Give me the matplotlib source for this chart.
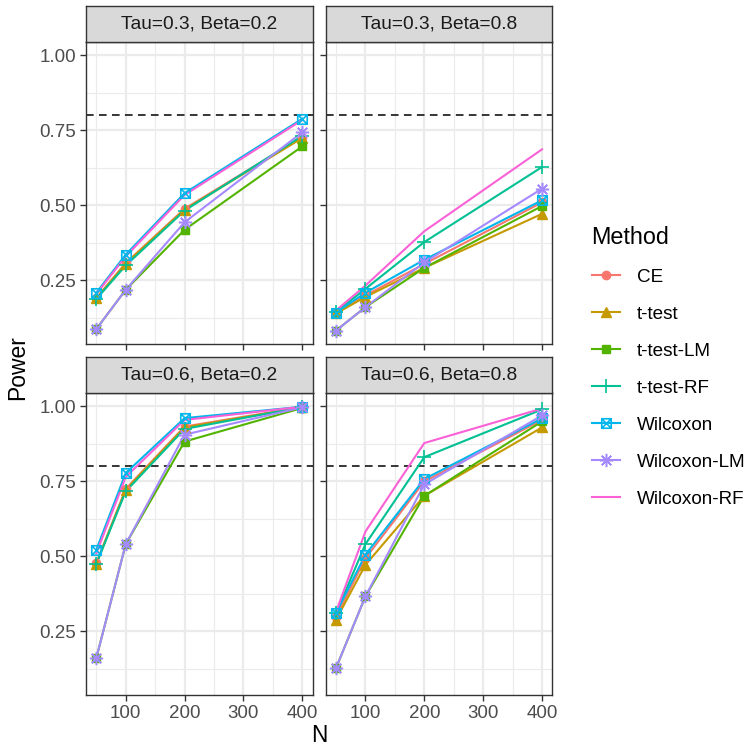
import numpy as np
import matplotlib
matplotlib.use("Agg")
import matplotlib.pyplot as plt
from matplotlib.path import Path
from matplotlib.lines import Line2D

plt.rcParams['font.family'] = ['Liberation Sans', 'DejaVu Sans']

n_values = [50, 100, 200, 400]
methods = ['CE', 't-test', 't-test-LM', 't-test-RF', 'Wilcoxon', 'Wilcoxon-LM', 'Wilcoxon-RF']
panel_titles = ['Tau=0.3, Beta=0.2', 'Tau=0.3, Beta=0.8',
                'Tau=0.6, Beta=0.2', 'Tau=0.6, Beta=0.8']

# rows follow the order of `methods`
power_tau03_beta02 = [
    [0.192, 0.308, 0.489, 0.728],
    [0.190, 0.306, 0.486, 0.725],
    [0.088, 0.219, 0.419, 0.697],
    [0.188, 0.300, 0.483, 0.732],
    [0.209, 0.336, 0.541, 0.789],
    [0.088, 0.219, 0.444, 0.744],
    [0.205, 0.330, 0.535, 0.785],
]
power_tau03_beta08 = [
    [0.141, 0.200, 0.305, 0.510],
    [0.140, 0.195, 0.292, 0.472],
    [0.083, 0.161, 0.292, 0.498],
    [0.145, 0.222, 0.378, 0.628],
    [0.143, 0.209, 0.319, 0.517],
    [0.083, 0.161, 0.310, 0.556],
    [0.150, 0.233, 0.414, 0.687],
]
power_tau06_beta02 = [
    [0.478, 0.725, 0.933, 0.998],
    [0.476, 0.722, 0.930, 0.997],
    [0.161, 0.541, 0.883, 0.995],
    [0.475, 0.717, 0.925, 0.998],
    [0.522, 0.778, 0.961, 0.999],
    [0.161, 0.541, 0.906, 0.997],
    [0.510, 0.765, 0.955, 0.999],
]
power_tau06_beta08 = [
    [0.298, 0.494, 0.750, 0.955],
    [0.289, 0.472, 0.702, 0.930],
    [0.128, 0.367, 0.702, 0.950],
    [0.310, 0.541, 0.831, 0.990],
    [0.311, 0.506, 0.758, 0.960],
    [0.128, 0.367, 0.740, 0.970],
    [0.315, 0.583, 0.878, 0.993],
]
target_power = 0.8

panels = [power_tau03_beta02, power_tau03_beta08, power_tau06_beta02, power_tau06_beta08]

colors = ['#F8766D', '#C49A00', '#53B400', '#00C094', '#00B6EB', '#A58AFF', '#FB61D7']

# square with a cross (ggplot shape 7)
boxtimes = Path([(-1, -1), (1, -1), (1, 1), (-1, 1), (-1, -1),
                 (-1, -1), (1, 1), (-1, 1), (1, -1)],
                [Path.MOVETO, Path.LINETO, Path.LINETO, Path.LINETO, Path.CLOSEPOLY,
                 Path.MOVETO, Path.LINETO, Path.MOVETO, Path.LINETO])
marker_kw = [
    dict(marker='o', markersize=6.0),
    dict(marker='^', markersize=7.0),
    dict(marker='s', markersize=6.2),
    dict(marker='+', markersize=9.5, markeredgewidth=1.2),
    dict(marker=boxtimes, markersize=6.8, markerfacecolor='none', markeredgewidth=1.2),
    dict(marker=(8, 2, 0), markersize=9.5, markeredgewidth=1.1),
    dict(marker=None),
]

W, H = 746, 748
fig = plt.figure(figsize=(W / 100, H / 100), dpi=100)

lefts = [86, 325.7]
tops = [42, 393]
pw, ph = 226.6, 302.3
strip_h = 36.3

all_vals = np.array(panels).ravel()
lo, hi = all_vals.min(), all_vals.max()
pad = 0.05 * (hi - lo)
ylim = (lo - pad, hi + pad)
xpad = 0.05 * (max(n_values) - min(n_values))
xlim = (min(n_values) - xpad, max(n_values) + xpad)

grey20 = '#333333'
for idx, data in enumerate(panels):
    r, c = divmod(idx, 2)
    x0 = lefts[c]
    y0 = tops[r]
    ax = fig.add_axes([x0 / W, 1 - (y0 + ph) / H, pw / W, ph / H])
    ax.set_xlim(*xlim)
    ax.set_ylim(*ylim)
    ax.set_xticks([100, 200, 300, 400])
    ax.set_xticks([50, 150, 250, 350], minor=True)
    ax.set_yticks([0.25, 0.5, 0.75, 1.0])
    ax.set_yticks([0.125, 0.375, 0.625, 0.875], minor=True)
    ax.grid(which='major', color='#EBEBEB', linewidth=1.6, zorder=0)
    ax.grid(which='minor', color='#EBEBEB', linewidth=0.8, zorder=0)
    ax.set_axisbelow(True)
    for s in ax.spines.values():
        s.set_color(grey20)
        s.set_linewidth(1.0)
    ax.tick_params(which='major', length=4, width=1.0, color=grey20,
                   labelsize=13.5, labelcolor='#4D4D4D', pad=3)
    ax.tick_params(which='minor', length=0)
    if c == 1:
        ax.tick_params(labelleft=False)
    else:
        ax.set_yticklabels(['0.25', '0.50', '0.75', '1.00'])
    if r == 0:
        ax.tick_params(labelbottom=False)

    ax.axhline(target_power, color='black', linestyle=(0, (5, 3.5)), linewidth=1.1, zorder=1)
    for k, m in enumerate(methods):
        ax.plot(n_values, data[k], color=colors[k], linewidth=1.5, zorder=2)
    for k, m in enumerate(methods):
        if marker_kw[k]['marker'] is None:
            continue
        kw = dict(marker_kw[k])
        kw.setdefault('markeredgecolor', colors[k])
        if 'markerfacecolor' not in kw:
            kw['markerfacecolor'] = colors[k]
        ax.plot(n_values, data[k], linestyle='none', zorder=3, **kw)

    sax = fig.add_axes([x0 / W, 1 - y0 / H, pw / W, strip_h / H])
    sax.set_facecolor('#D9D9D9')
    sax.set_xticks([])
    sax.set_yticks([])
    for s in sax.spines.values():
        s.set_color(grey20)
        s.set_linewidth(1.0)
    sax.text(0.5, 0.5, panel_titles[idx], ha='center', va='center',
             fontsize=13.8, color='#1A1A1A', transform=sax.transAxes)

fig.text(319 / W, 1 - 742 / H, 'N', ha='center', va='baseline', fontsize=16.3)
fig.text(18 / W, 1 - 368 / H, 'Power', ha='center', va='center', fontsize=16.5, rotation=90)

handles = []
for k, m in enumerate(methods):
    kw = dict(marker_kw[k])
    if kw['marker'] is not None:
        kw.setdefault('markeredgecolor', colors[k])
        if 'markerfacecolor' not in kw:
            kw['markerfacecolor'] = colors[k]
    handles.append(Line2D([], [], color=colors[k], linewidth=1.5, **kw))
leg = fig.legend(handles, methods, loc='upper left', bbox_to_anchor=(584 / W, 1 - 218 / H),
                 frameon=False, fontsize=13.6, title='Method', title_fontsize=16.8,
                 handlelength=1.53, handletextpad=0.85, labelspacing=1.05, alignment='left',
                 borderaxespad=0)

fig.savefig('out.png', dpi=100)
